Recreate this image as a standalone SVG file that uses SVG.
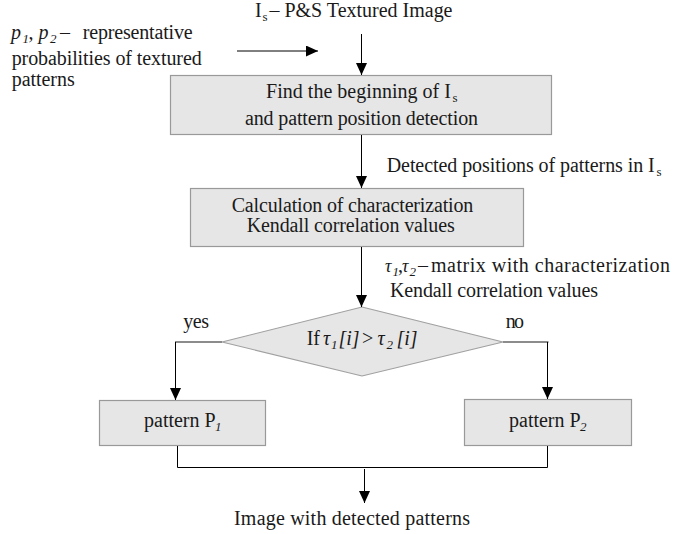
<svg xmlns="http://www.w3.org/2000/svg" width="673" height="534" viewBox="0 0 673 534">
<style>
text{font-family:"Liberation Serif","Times New Roman",serif;font-size:20px;fill:#1a1a1a}
.it{font-style:italic}
.sub{font-size:13px}
.tau{font-style:italic;font-size:18px}
.box{fill:#e6e6e6;stroke:#999;stroke-width:1.2}
.ln{fill:none;stroke:#000;stroke-width:1}
.gl{fill:none;stroke:#666;stroke-width:1.6}
</style>
<defs>
<marker id="ah" markerUnits="userSpaceOnUse" markerWidth="12" markerHeight="11" refX="12" refY="5.5" orient="auto">
<path d="M0,0 L12,5.5 L0,11 z" fill="#000"/>
</marker>
</defs>
<rect width="673" height="534" fill="#fff"/>

<g id="title">
<text x="255" y="17">I<tspan class="sub" x="262.5" y="21">s</tspan><tspan x="269.5" y="17" textLength="183" lengthAdjust="spacing">– P&amp;S Textured Image</tspan></text>
</g>

<g id="input-probabilities">
<text y="39"><tspan class="it" x="11">p</tspan><tspan class="sub it" x="22.5" y="43">1</tspan><tspan x="28.5" y="39">,</tspan><tspan class="it" x="38.5">p</tspan><tspan class="sub it" x="50" y="43">2</tspan><tspan x="60" y="39">–</tspan><tspan x="82.7" textLength="110" lengthAdjust="spacing">representative</tspan></text>
<text x="11.7" y="65" textLength="190" lengthAdjust="spacing">probabilities of textured</text>
<text x="11.7" y="86" textLength="63" lengthAdjust="spacing">patterns</text>
</g>

<g id="find-beginning">
<rect class="box" x="170.5" y="75.5" width="381" height="59"/>
<text x="266" y="98" textLength="185" lengthAdjust="spacing">Find the beginning of I</text>
<text class="sub" x="452.5" y="102">s</text>
<text x="245" y="125" textLength="233" lengthAdjust="spacing">and pattern position detection</text>
</g>

<g id="detected-label">
<text x="386.7" y="172" textLength="268" lengthAdjust="spacing">Detected positions of patterns in I</text>
<text class="sub" x="656.5" y="176">s</text>
</g>

<g id="calculation">
<rect class="box" x="190.5" y="188.5" width="333" height="58"/>
<text x="231.7" y="212" textLength="241.6" lengthAdjust="spacing">Calculation of characterization</text>
<text x="246.7" y="232" textLength="208" lengthAdjust="spacing">Kendall correlation values</text>
</g>

<g id="tau-label">
<text y="272"><tspan class="tau" x="385">τ</tspan><tspan class="sub it" x="392.5" y="276">1</tspan><tspan x="398" y="272">,</tspan><tspan class="tau" x="402">τ</tspan><tspan class="sub it" x="409.5" y="276">2</tspan><tspan x="418" y="272">–</tspan><tspan x="431" textLength="239" lengthAdjust="spacing">matrix with characterization</tspan></text>
<text x="390" y="297" textLength="208" lengthAdjust="spacing">Kendall correlation values</text>
</g>

<g id="decision">
<polygon points="362,307 503,342 362,376 222,342" fill="#e6e6e6" stroke="#a0a0a0" stroke-width="1.2"/>
<text y="345"><tspan x="306.7">If</tspan><tspan class="it" x="323">τ</tspan><tspan class="sub it" x="331" y="349">1</tspan><tspan class="it" x="338.5" y="345">[i]</tspan><tspan x="362">&gt;</tspan><tspan class="it" x="377.5">τ</tspan><tspan class="sub it" x="386.5" y="349">2</tspan><tspan class="it" x="396.5" y="345">[i]</tspan></text>
</g>

<g id="yes-label"><text x="183.3" y="328" textLength="25.7" lengthAdjust="spacing">yes</text></g>
<g id="no-label"><text x="505.7" y="328" textLength="18.3" lengthAdjust="spacing">no</text></g>

<g id="pattern-p1">
<rect class="box" x="99.5" y="400.5" width="166" height="45"/>
<text x="144" y="427">pattern P<tspan class="sub it" x="215" y="431">1</tspan></text>
</g>

<g id="pattern-p2">
<rect class="box" x="464.5" y="399.5" width="167" height="46"/>
<text x="509" y="427">pattern P<tspan class="sub it" x="580" y="431">2</tspan></text>
</g>

<g id="output">
<text x="234" y="525" textLength="236" lengthAdjust="spacing">Image with detected patterns</text>
</g>

<g id="connectors">
<line class="ln" x1="237" y1="51" x2="318" y2="51" marker-end="url(#ah)"/>
<line class="ln" x1="361.5" y1="34" x2="361.5" y2="75" marker-end="url(#ah)"/>
<line class="ln" x1="361.5" y1="135" x2="361.5" y2="188" marker-end="url(#ah)"/>
<line class="ln" x1="361.5" y1="247" x2="361.5" y2="307" marker-end="url(#ah)"/>
<line class="gl" x1="222" y1="342" x2="175" y2="342"/>
<line class="ln" x1="175.5" y1="342" x2="175.5" y2="400" marker-end="url(#ah)"/>
<line class="gl" x1="503" y1="342" x2="548.5" y2="342"/>
<line class="ln" x1="547.5" y1="342" x2="547.5" y2="399" marker-end="url(#ah)"/>
<polyline class="ln" points="177.5,446 177.5,467.5 547.5,467.5 547.5,446"/>
<line class="ln" x1="364.5" y1="469" x2="364.5" y2="503" marker-end="url(#ah)"/>
</g>
</svg>
